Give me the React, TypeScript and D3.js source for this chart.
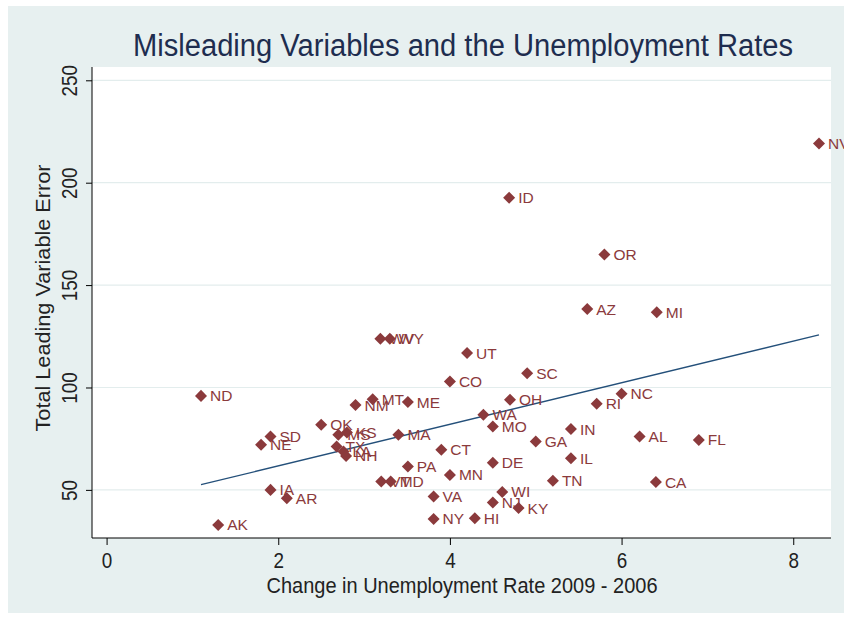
import * as d3 from "d3";
import React, { useRef, useEffect } from "react";

// state abbreviations, change in unemployment rate 2009-2006, total leading variable error
const states = [
  "NV", "ID", "OR", "AZ", "MI", "WV", "WY", "UT", "SC", "CO",
  "ND", "NC", "OH", "RI", "MT", "NM", "ME", "WA", "MO", "OK",
  "KS", "MS", "MA", "IN", "GA", "AL", "FL", "TX", "CT", "LA",
  "NH", "SD", "NE", "PA", "DE", "IL", "MN", "TN", "CA", "VT",
  "MD", "IA", "AR", "VA", "WI", "NJ", "KY", "NY", "HI", "AK",
];
const changeRate = [
  8.3, 4.69, 5.8, 5.6, 6.41, 3.19, 3.3, 4.2, 4.9, 4.0,
  1.1, 6.0, 4.7, 5.71, 3.1, 2.9, 3.51, 4.39, 4.5, 2.5,
  2.8, 2.7, 3.4, 5.41, 5.0, 6.21, 6.9, 2.68, 3.9, 2.76,
  2.79, 1.91, 1.8, 3.51, 4.5, 5.41, 4.0, 5.2, 6.4, 3.2,
  3.31, 1.91, 2.1, 3.81, 4.61, 4.5, 4.8, 3.81, 4.29, 1.3,
];
const leadingError = [
  219.1, 192.7, 164.9, 138.3, 136.7, 123.8, 123.8, 116.8, 107.0, 102.9,
  95.9, 96.9, 94.0, 92.1, 94.3, 91.4, 92.9, 86.7, 80.9, 81.8,
  78.0, 76.9, 76.9, 79.7, 73.6, 76.1, 74.4, 71.2, 69.6, 68.7,
  66.6, 76.1, 72.0, 61.4, 63.3, 65.5, 57.3, 54.5, 53.8, 54.1,
  54.1, 50.0, 45.9, 46.8, 49.0, 43.8, 41.1, 35.8, 36.2, 32.9,
];
const xTicks = [0, 2, 4, 6, 8];
const yTicks = [50, 100, 150, 200, 250];

const svgWidth = 844;
const svgHeight = 619;
const narrow = "'Liberation Sans Narrow', 'Arial Narrow', 'Liberation Sans', sans-serif";
const maroon = "#8b3a3c";

const App = () => {
  const d3Container = useRef(null);

  useEffect(() => {
    const svgC = d3.select(d3Container.current);
    svgC.selectAll("*").remove();

    const left = 92, right = 831, top = 67, bottom = 538;

    const xScale = d3.scaleLinear().domain([-0.17, 8.44]).range([left, right]);
    const yScale = d3.scaleLinear().domain([26.5, 256.5]).range([bottom, top]);

    // backgrounds
    svgC.append("rect")
      .attr("x", 8).attr("y", 6)
      .attr("width", svgWidth - 8).attr("height", 607)
      .attr("fill", "#e7f0f0");
    svgC.append("rect")
      .attr("x", left).attr("y", top)
      .attr("width", right - left).attr("height", bottom - top)
      .attr("fill", "#ffffff");

    // gridlines
    svgC.append("g")
      .selectAll("line")
      .data(yTicks)
      .enter()
      .append("line")
      .attr("x1", left).attr("x2", right)
      .attr("y1", (d) => yScale(d)).attr("y2", (d) => yScale(d))
      .attr("stroke", "#e3eded")
      .attr("stroke-width", 1.2);

    // fitted line (OLS)
    const n = states.length;
    const mx = d3.mean(changeRate);
    const my = d3.mean(leadingError);
    let sxy = 0, sxx = 0;
    for (let i = 0; i < n; i++) {
      sxy += (changeRate[i] - mx) * (leadingError[i] - my);
      sxx += (changeRate[i] - mx) ** 2;
    }
    const slope = sxy / sxx;
    const intercept = my - slope * mx;
    const xExt = d3.extent(changeRate);
    const line = d3.line()
      .x((d) => xScale(d))
      .y((d) => yScale(intercept + slope * d));
    svgC.append("path")
      .attr("d", line(xExt))
      .attr("fill", "none")
      .attr("stroke", "#24507a")
      .attr("stroke-width", 1.3);

    // points
    const idx = d3.range(n);
    const diamond = d3.symbol().type(d3.symbolDiamond2).size(92);
    const pts = svgC.append("g");
    pts.selectAll("path")
      .data(idx)
      .enter()
      .append("path")
      .attr("d", diamond)
      .attr("transform", (i) => `translate(${xScale(changeRate[i])},${yScale(leadingError[i])})`)
      .attr("fill", maroon);
    pts.selectAll("text")
      .data(idx)
      .enter()
      .append("text")
      .attr("x", (i) => xScale(changeRate[i]) + 9)
      .attr("y", (i) => yScale(leadingError[i]) + 5.5)
      .attr("font-family", "'Liberation Sans', Arial, sans-serif")
      .attr("font-size", 15.5)
      .attr("fill", maroon)
      .text((i) => states[i]);

    /* axes */
    const axisLeft = svgC.append("g").attr("transform", `translate(${left},0)`);
    axisLeft.call(d3.axisLeft(yScale).tickValues(yTicks).tickSize(6).tickFormat(d3.format("d")));
    axisLeft.select(".domain").attr("d", `M0,${top}V${bottom}`).attr("stroke", "#000");
    axisLeft.selectAll(".tick text")
      .attr("font-family", narrow)
      .attr("font-size", 22)
      .attr("fill", "#222")
      .attr("text-anchor", "middle")
      .attr("x", 0).attr("dy", 0)
      .attr("textLength", (d) => String(d).length * 10.5)
      .attr("lengthAdjust", "spacingAndGlyphs")
      .attr("transform", "translate(-15,0) rotate(-90)");

    const axisBottom = svgC.append("g").attr("transform", `translate(0,${bottom})`);
    axisBottom.call(d3.axisBottom(xScale).tickValues(xTicks).tickSize(7).tickFormat(d3.format("d")));
    axisBottom.select(".domain").attr("d", `M${left},0H${right}`).attr("stroke", "#000");
    axisBottom.selectAll(".tick text")
      .attr("font-family", narrow)
      .attr("font-size", 22)
      .attr("fill", "#222")
      .attr("textLength", (d) => String(d).length * 10.5)
      .attr("lengthAdjust", "spacingAndGlyphs")
      .attr("y", 14).attr("dy", "0.71em");

    // titles
    svgC.append("text")
      .attr("x", 463).attr("y", 56)
      .attr("text-anchor", "middle")
      .attr("font-family", narrow)
      .attr("font-size", 31)
      .attr("fill", "#1e2d4f")
      .attr("textLength", 660)
      .attr("lengthAdjust", "spacingAndGlyphs")
      .text("Misleading Variables and the Unemployment Rates");

    svgC.append("text")
      .attr("x", 462).attr("y", 593)
      .attr("text-anchor", "middle")
      .attr("font-family", narrow)
      .attr("font-size", 22)
      .attr("fill", "#222")
      .attr("textLength", 391)
      .attr("lengthAdjust", "spacingAndGlyphs")
      .text("Change in Unemployment Rate 2009 - 2006");

    svgC.append("text")
      .attr("transform", "translate(50,298) rotate(-90)")
      .attr("text-anchor", "middle")
      .attr("font-family", narrow)
      .attr("font-size", 21)
      .attr("fill", "#222")
      .attr("textLength", 267)
      .attr("lengthAdjust", "spacingAndGlyphs")
      .text("Total Leading Variable Error");
  }, []);

  return (
    <svg
      width={svgWidth}
      height={svgHeight}
      ref={d3Container}
      style={{ position: "absolute", left: 0, top: 0, background: "#ffffff" }}
    />
  );
};

export default App;
